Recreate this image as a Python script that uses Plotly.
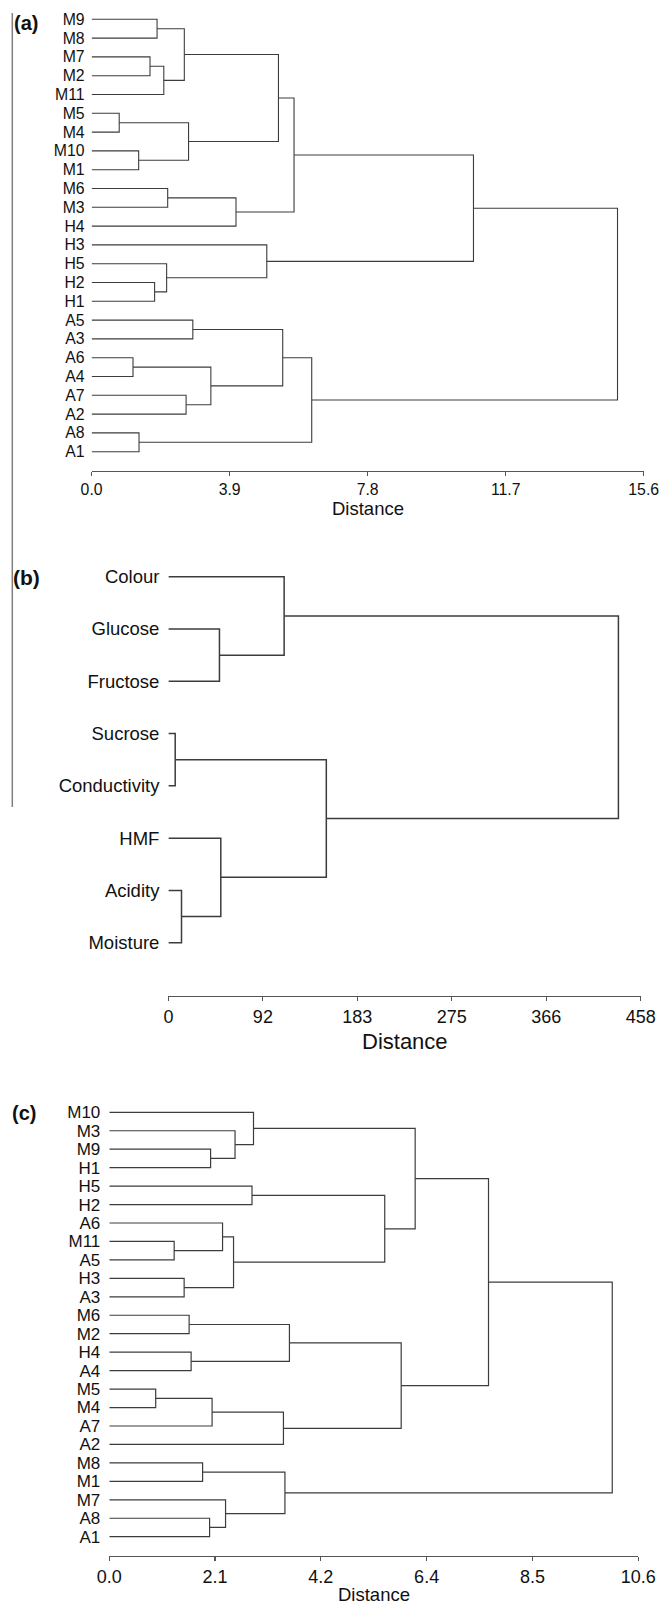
import plotly.graph_objects as go

# ---------------- DATA ----------------
# Panel (a): samples, Distance axis 0..15.6
a_leaves = ["M9", "M8", "M7", "M2", "M11", "M5", "M4", "M10", "M1", "M6", "M3", "H4",
            "H3", "H5", "H2", "H1", "A5", "A3", "A6", "A4", "A7", "A2", "A8", "A1"]
# merges: (child, child, height); child = leaf name or index of earlier merge
a_merges = [
    ("M9", "M8", 1.85),   # 0
    ("M7", "M2", 1.65),   # 1
    (1, "M11", 2.04),     # 2
    (0, 2, 2.62),         # 3
    ("M5", "M4", 0.78),   # 4
    ("M10", "M1", 1.33),  # 5
    (4, 5, 2.74),         # 6
    (3, 6, 5.28),         # 7
    ("M6", "M3", 2.15),   # 8
    (8, "H4", 4.08),      # 9
    (7, 9, 5.72),         # 10
    ("H2", "H1", 1.78),   # 11
    ("H5", 11, 2.12),     # 12
    ("H3", 12, 4.95),     # 13
    (10, 13, 10.79),      # 14
    ("A5", "A3", 2.86),   # 15
    ("A6", "A4", 1.17),   # 16
    ("A7", "A2", 2.67),   # 17
    (16, 17, 3.37),       # 18
    (15, 18, 5.40),       # 19
    ("A8", "A1", 1.34),   # 20
    (19, 20, 6.22),       # 21
    (14, 21, 14.86),      # 22
]
a_tickvals = [0, 3.9, 7.8, 11.7, 15.6]
a_ticktext = ["0.0", "3.9", "7.8", "11.7", "15.6"]

# Panel (b): variables, Distance axis 0..458
b_leaves = ["Colour", "Glucose", "Fructose", "Sucrose", "Conductivity", "HMF", "Acidity", "Moisture"]
b_merges = [
    ("Glucose", "Fructose", 49.5),      # 0
    ("Colour", 0, 112.2),               # 1
    ("Sucrose", "Conductivity", 6.6),   # 2
    ("Acidity", "Moisture", 12.7),      # 3
    ("HMF", 3, 50.8),                   # 4
    (2, 4, 153.1),                      # 5
    (1, 5, 436.3),                      # 6
]
b_tickvals = [0, 91.6, 183.2, 274.8, 366.4, 458]
b_ticktext = ["0", "92", "183", "275", "366", "458"]

# Panel (c): samples, Distance axis 0..10.6
c_leaves = ["M10", "M3", "M9", "H1", "H5", "H2", "A6", "M11", "A5", "H3", "A3", "M6",
            "M2", "H4", "A4", "M5", "M4", "A7", "A2", "M8", "M1", "M7", "A8", "A1"]
c_merges = [
    ("M9", "H1", 2.03),   # 0
    ("M3", 0, 2.52),      # 1
    ("M10", 1, 2.89),     # 2
    ("H5", "H2", 2.86),   # 3
    ("M11", "A5", 1.30),  # 4
    ("A6", 4, 2.27),      # 5
    ("H3", "A3", 1.50),   # 6
    (5, 6, 2.49),         # 7
    (3, 7, 5.52),         # 8
    (2, 8, 6.13),         # 9
    ("M6", "M2", 1.60),   # 10
    ("H4", "A4", 1.64),   # 11
    (10, 11, 3.61),       # 12
    ("M5", "M4", 0.93),   # 13
    (13, "A7", 2.06),     # 14
    (14, "A2", 3.49),     # 15
    (12, 15, 5.85),       # 16
    (9, 16, 7.60),        # 17
    ("M8", "M1", 1.87),   # 18
    ("A8", "A1", 2.01),   # 19
    ("M7", 19, 2.33),     # 20
    (18, 20, 3.52),       # 21
    (17, 21, 10.08),      # 22
]
c_tickvals = [0, 2.12, 4.24, 6.36, 8.48, 10.6]
c_ticktext = ["0.0", "2.1", "4.2", "6.4", "8.5", "10.6"]

# ---------------- HELPERS ----------------
W, H = 662, 1605
FONT = "Liberation Sans, Arial, sans-serif"


def dendro_path(leaves, merges):
    pos = {name: i for i, name in enumerate(leaves)}
    node_y, node_h = [], []
    xs, ys = [], []

    def get(ref):
        if isinstance(ref, str):
            return pos[ref], 0.0
        return node_y[ref], node_h[ref]

    for a, b, h in merges:
        ya, ha = get(a)
        yb, hb = get(b)
        xs += [ha, h, h, hb, None]
        ys += [ya, ya, yb, yb, None]
        node_y.append((ya + yb) / 2)
        node_h.append(h)
    return xs, ys


# pixel layout per panel: x of zero, x of max, top, bottom(axis), first leaf y, leaf spacing
panels = [
    dict(leaves=a_leaves, merges=a_merges, tv=a_tickvals, tt=a_ticktext,
         x0=91.6, x1=643.7, ytop=0, ybot=471, first=19.3, step=18.8,
         lab=15.8, tick=15.8, dist=18.5, dist_y=508.3, lw=1.1, gap=6,
         tag="(a)", tag_x=12, tag_y=23, tag_size=20),
    dict(leaves=b_leaves, merges=b_merges, tv=b_tickvals, tt=b_ticktext,
         x0=168.4, x1=640.8, ytop=520, ybot=996, first=576.7, step=52.29,
         lab=18.5, tick=18, dist=22, dist_y=1041.7, lw=1.5, gap=8,
         tag="(b)", tag_x=11, tag_y=578, tag_size=21),
    dict(leaves=c_leaves, merges=c_merges, tv=c_tickvals, tt=c_ticktext,
         x0=109.3, x1=638.2, ytop=1085, ybot=1556, first=1112.3, step=18.452,
         lab=17, tick=18, dist=18.5, dist_y=1594.5, lw=1.2, gap=8,
         tag="(c)", tag_x=10, tag_y=1113.3, tag_size=20),
]

fig = go.Figure()
annotations = []
layout_axes = {}

for i, p in enumerate(panels):
    n = i + 1
    xa = "x" if n == 1 else f"x{n}"
    ya = "y" if n == 1 else f"y{n}"
    xs, ys = dendro_path(p["leaves"], p["merges"])
    fig.add_trace(go.Scatter(x=xs, y=ys, mode="lines", xaxis=xa, yaxis=ya,
                             line=dict(color="#3c3c3c", width=p["lw"]),
                             hoverinfo="skip", showlegend=False))
    xmax = p["tv"][-1]
    idx_top = (p["ytop"] - p["first"]) / p["step"]
    idx_bot = (p["ybot"] - p["first"]) / p["step"]
    layout_axes[f"xaxis{'' if n == 1 else n}"] = dict(
        domain=[p["x0"] / W, p["x1"] / W], range=[0, xmax], anchor=ya,
        automargin=False, ticklabeloverflow="allow",
        showgrid=False, zeroline=False, showline=True, linecolor="#555", linewidth=1.2,
        ticks="outside", ticklen=4, tickcolor="#555", tickwidth=1.2,
        tickvals=p["tv"], ticktext=p["tt"],
        tickfont=dict(family=FONT, size=p["tick"], color="#111"),
        fixedrange=True)
    layout_axes[f"yaxis{'' if n == 1 else n}"] = dict(
        domain=[1 - p["ybot"] / H, 1 - p["ytop"] / H], range=[idx_bot, idx_top],
        anchor=xa, automargin=False,
        showgrid=False, zeroline=False, showline=False, ticks="",
        tickvals=list(range(len(p["leaves"]))), ticktext=p["leaves"],
        ticklabelstandoff=p["gap"],
        tickfont=dict(family=FONT, size=p["lab"], color="#111"), fixedrange=True)
    annotations.append(dict(xref="paper", yref="paper",
                            x=(p["x0"] + p["x1"]) / 2 / W, y=1 - p["dist_y"] / H,
                            xanchor="center", yanchor="middle", showarrow=False,
                            text="Distance",
                            font=dict(family=FONT, size=p["dist"], color="#111")))
    annotations.append(dict(xref="paper", yref="paper",
                            x=p["tag_x"] / W, y=1 - p["tag_y"] / H,
                            xanchor="left", yanchor="middle", showarrow=False,
                            text=f"<b>{p['tag']}</b>",
                            font=dict(family=FONT, size=p["tag_size"], color="#111")))

fig.update_layout(
    width=W, height=H, margin=dict(l=0, r=0, t=0, b=0),
    paper_bgcolor="white", plot_bgcolor="white",
    annotations=annotations,
    shapes=[dict(type="line", xref="paper", yref="paper",
                 x0=12.3 / W, x1=12.3 / W, y0=1 - 13 / H, y1=1 - 807 / H,
                 line=dict(color="#808080", width=1.5))],
    **layout_axes,
)

fig.write_html("out.html",
               config={"displayModeBar": False, "staticPlot": True},
               post_script="document.body.style.margin='0';"
                           "document.body.style.overflow='hidden';")
